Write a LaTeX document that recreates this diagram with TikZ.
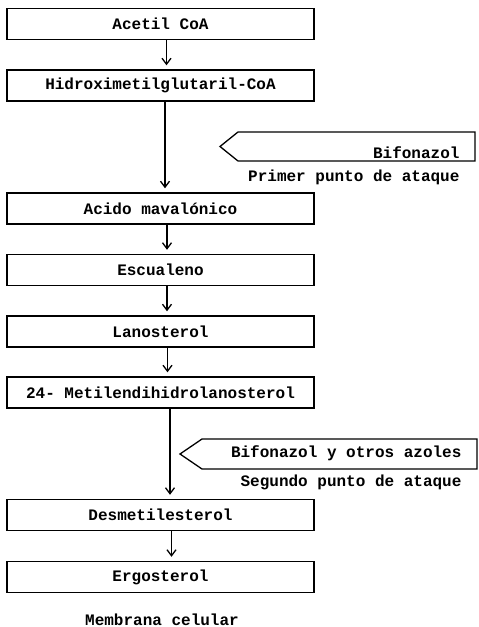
\documentclass[tikz,border=0pt]{standalone}
\usepackage{fontspec}
\setmonofont{Liberation Mono}
\usetikzlibrary{arrows.meta}

\begin{document}
\begin{tikzpicture}[
 x=1pt, y=-1pt,
 font=\ttfamily\bfseries\fontsize{16}{19}\selectfont,
 stepbox/.style={draw, line width=1.4pt, minimum width=307pt, minimum height=31pt, inner sep=0pt},
 flow/.style={-{Straight Barb[length=6pt,width=9pt]}, line width=1.3pt, shorten >=4pt},
 blocker/.style={draw, line width=1.3pt}
]
 \useasboundingbox (0,0) rectangle (479,627);

 % Sterol route, one box per step
 \node[stepbox] (acetil) at (160.5,24) {Acetil CoA};
 \node[stepbox] (hmg) at (160.5,85.5) {Hidroximetilglutaril-CoA};
 \node[stepbox] (mevalon) at (160.5,208.5) {Acido mavalónico};
 \node[stepbox] (escual) at (160.5,270) {Escualeno};
 \node[stepbox] (lanost) at (160.5,331.5) {Lanosterol};
 \node[stepbox] (metilen) at (160.5,392.5) {24- Metilendihidrolanosterol};
 \node[stepbox] (desmet) at (160.5,515) {Desmetilesterol};
 \node[stepbox] (ergost) at (160.5,577) {Ergosterol};
 \node[anchor=base] (membrana) at (162,625) {Membrana celular};

 % Arrows between the steps
 \draw[flow] ([xshift=6pt]acetil.south) -- ([xshift=6pt]hmg.north);
 \draw[flow] ([xshift=4.5pt]hmg.south) -- ([xshift=4.5pt]mevalon.north);
 \draw[flow] ([xshift=6.5pt]mevalon.south) -- ([xshift=6.5pt]escual.north);
 \draw[flow] ([xshift=6.5pt]escual.south) -- ([xshift=6.5pt]lanost.north);
 \draw[flow] ([xshift=7pt]lanost.south) -- ([xshift=7pt]metilen.north);
 \draw[flow] ([xshift=9.5pt]metilen.south) -- ([xshift=9.5pt]desmet.north);
 \draw[flow] ([xshift=11pt]desmet.south) -- ([xshift=11pt]ergost.north);

 % First point of attack
 \draw[blocker] (238,132) -- (475,132) -- (475,161) -- (238,161) -- (220,146.5) -- cycle;
 \node[anchor=base east] (bif1) at (463,158) {Bifonazol};
 \node[anchor=base east] (ataque1) at (463,181) {Primer punto de ataque};

 % Second point of attack
 \draw[blocker] (202,439) -- (477,439) -- (477,469) -- (202,469) -- (180,454) -- cycle;
 \node[anchor=base east] (bif2) at (465,457) {Bifonazol y otros azoles};
 \node[anchor=base east] (ataque2) at (465,486) {Segundo punto de ataque};
\end{tikzpicture}
\end{document}
